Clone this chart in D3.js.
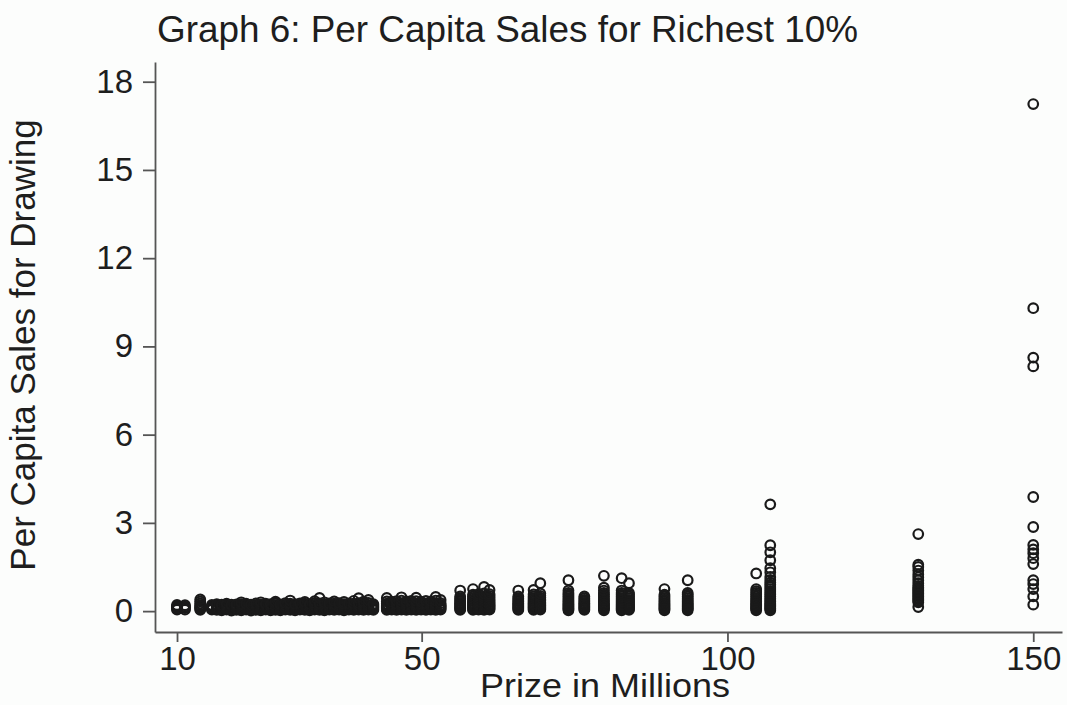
<!DOCTYPE html>
<html lang="en">
    <head>
        <meta charset="utf-8">
        <title>Graph 6</title>
        <script src="https://d3js.org/d3.v7.min.js"></script>
        <style type="text/css">
            body { margin: 0; background: #fcfdfc; }
            text { font-family: "Liberation Sans", Arial, sans-serif; fill: #1e1e1e; }
        </style>
    </head>
    <body>
        <script>
        const width = 1067;
        const height = 705;

        // prize (millions) for each drawing column
        const prizes = [
            10, 11.3, 13.8,
            15.7, 16.5, 17.3, 18.1, 18.9, 19.7, 20.5, 21.3, 22.1, 22.9, 23.7, 24.5, 25.3, 26.1, 26.9,
            27.7, 28.5, 29.3, 30.1, 30.9, 31.7, 32.5, 33.3, 34.1, 34.9, 35.7, 36.5, 37.3, 38.1, 38.9,
            39.7, 40.5, 41.3, 42.1,
            44.3, 45.1, 45.9, 46.7, 47.5, 48.3, 49.1, 49.9, 50.7, 51.5, 52.3, 53.1,
            56.3, 58.4, 59.3, 60.2, 61.1, 65.8, 68.3, 69.4,
            74, 76.6, 79.8, 82.7, 83.9, 89.7, 93.5, 104.7, 107, 131.2, 150
        ];

        // per capita sales of the observations in each column (same order as prizes)
        const sales = [
            [0.05, 0.09, 0.13, 0.17, 0.21], [0.05, 0.1, 0.15, 0.2], [0.04, 0.08, 0.12, 0.16, 0.2, 0.26, 0.33, 0.4],
            [0.05, 0.09, 0.13, 0.17, 0.21], [0.04, 0.08, 0.12, 0.16, 0.2, 0.24], [0.03, 0.07, 0.11, 0.15, 0.19, 0.22],
            [0.05, 0.09, 0.13, 0.17, 0.21, 0.25], [0.02, 0.06, 0.1, 0.14, 0.18, 0.22], [0.04, 0.08, 0.12, 0.16, 0.2, 0.23],
            [0.03, 0.07, 0.11, 0.15, 0.19, 0.24, 0.3], [0.05, 0.09, 0.13, 0.17, 0.21, 0.25], [0.02, 0.06, 0.1, 0.14, 0.18, 0.22],
            [0.04, 0.08, 0.12, 0.16, 0.2, 0.26], [0.03, 0.07, 0.11, 0.15, 0.19, 0.23, 0.3], [0.05, 0.09, 0.13, 0.17, 0.21, 0.25],
            [0.03, 0.07, 0.11, 0.15, 0.19, 0.24], [0.04, 0.08, 0.12, 0.16, 0.2, 0.26, 0.32], [0.03, 0.07, 0.11, 0.15, 0.19, 0.23],
            [0.05, 0.09, 0.13, 0.17, 0.21, 0.27], [0.04, 0.08, 0.12, 0.16, 0.2, 0.25, 0.36], [0.03, 0.07, 0.11, 0.15, 0.19, 0.24],
            [0.05, 0.09, 0.13, 0.17, 0.21, 0.26], [0.04, 0.08, 0.12, 0.16, 0.2, 0.25, 0.31], [0.03, 0.07, 0.11, 0.15, 0.19, 0.24],
            [0.05, 0.09, 0.13, 0.17, 0.21, 0.27, 0.34], [0.04, 0.08, 0.12, 0.16, 0.2, 0.26, 0.45], [0.03, 0.07, 0.11, 0.15, 0.19, 0.24, 0.3],
            [0.05, 0.09, 0.13, 0.17, 0.21, 0.26], [0.04, 0.08, 0.12, 0.16, 0.2, 0.25, 0.33], [0.05, 0.09, 0.13, 0.17, 0.21, 0.27],
            [0.03, 0.07, 0.11, 0.15, 0.19, 0.24, 0.31], [0.05, 0.09, 0.13, 0.17, 0.21, 0.26], [0.04, 0.08, 0.12, 0.16, 0.2, 0.25, 0.35],
            [0.05, 0.09, 0.13, 0.17, 0.21, 0.27, 0.44], [0.04, 0.08, 0.12, 0.16, 0.2, 0.26, 0.32], [0.05, 0.09, 0.13, 0.17, 0.21, 0.28, 0.38],
            [0.04, 0.08, 0.12, 0.16, 0.2, 0.24],
            [0.04, 0.08, 0.12, 0.16, 0.2, 0.25, 0.33, 0.45], [0.05, 0.09, 0.13, 0.17, 0.21, 0.26, 0.32], [0.04, 0.08, 0.12, 0.16, 0.2, 0.25, 0.34],
            [0.05, 0.09, 0.13, 0.17, 0.21, 0.27, 0.36, 0.47], [0.04, 0.08, 0.12, 0.16, 0.2, 0.26, 0.33], [0.05, 0.09, 0.13, 0.17, 0.21, 0.27, 0.35],
            [0.04, 0.08, 0.12, 0.16, 0.2, 0.25, 0.34, 0.46], [0.05, 0.09, 0.13, 0.17, 0.21, 0.26, 0.32], [0.04, 0.08, 0.12, 0.16, 0.2, 0.26, 0.35],
            [0.05, 0.09, 0.13, 0.17, 0.21, 0.27, 0.33], [0.04, 0.08, 0.12, 0.16, 0.2, 0.26, 0.36, 0.48], [0.05, 0.09, 0.13, 0.17, 0.21, 0.27, 0.38],
            [0.04, 0.08, 0.12, 0.16, 0.2, 0.24, 0.28, 0.33, 0.38, 0.44, 0.5, 0.7],
            [0.04, 0.08, 0.12, 0.16, 0.2, 0.24, 0.28, 0.33, 0.38, 0.44, 0.5, 0.56, 0.75],
            [0.05, 0.09, 0.13, 0.17, 0.21, 0.25, 0.3, 0.35, 0.4, 0.46, 0.52, 0.58],
            [0.04, 0.08, 0.12, 0.16, 0.2, 0.24, 0.28, 0.33, 0.38, 0.44, 0.5, 0.6, 0.82],
            [0.05, 0.09, 0.13, 0.17, 0.21, 0.25, 0.3, 0.35, 0.4, 0.46, 0.52, 0.58, 0.72],
            [0.04, 0.08, 0.12, 0.16, 0.2, 0.24, 0.28, 0.33, 0.38, 0.44, 0.5, 0.7],
            [0.04, 0.08, 0.12, 0.16, 0.2, 0.24, 0.28, 0.33, 0.38, 0.44, 0.5, 0.57, 0.72],
            [0.05, 0.09, 0.13, 0.17, 0.21, 0.25, 0.3, 0.35, 0.4, 0.46, 0.52, 0.6, 0.95],
            [0.03, 0.07, 0.11, 0.15, 0.19, 0.23, 0.28, 0.33, 0.38, 0.44, 0.5, 0.56, 0.62, 0.7, 1.05],
            [0.04, 0.08, 0.12, 0.16, 0.2, 0.24, 0.28, 0.33, 0.38, 0.44, 0.5],
            [0.03, 0.07, 0.11, 0.15, 0.19, 0.23, 0.28, 0.33, 0.38, 0.44, 0.5, 0.56, 0.62, 0.7, 0.8, 1.2],
            [0.03, 0.07, 0.11, 0.15, 0.19, 0.23, 0.28, 0.33, 0.38, 0.44, 0.5, 0.56, 0.62, 0.7, 1.12],
            [0.04, 0.08, 0.12, 0.16, 0.2, 0.24, 0.28, 0.33, 0.38, 0.44, 0.5, 0.56, 0.62, 0.95],
            [0.03, 0.07, 0.11, 0.15, 0.19, 0.23, 0.28, 0.33, 0.38, 0.44, 0.5, 0.56, 0.75],
            [0.03, 0.07, 0.11, 0.15, 0.19, 0.23, 0.28, 0.33, 0.38, 0.44, 0.5, 0.56, 0.62, 1.05],
            [0.03, 0.07, 0.11, 0.15, 0.19, 0.23, 0.28, 0.33, 0.38, 0.44, 0.5, 0.56, 0.62, 0.68, 0.75, 1.28],
            [0.03, 0.07, 0.11, 0.15, 0.19, 0.23, 0.28, 0.33, 0.38, 0.44, 0.5, 0.56, 0.62, 0.68, 0.75, 0.82, 0.9, 0.97, 1.06, 1.16, 1.32, 1.46, 1.73, 2.0, 2.24, 3.63],
            [0.14, 0.3, 0.35, 0.4, 0.45, 0.5, 0.55, 0.6, 0.65, 0.7, 0.75, 0.8, 0.86, 0.95, 1.05, 1.15, 1.25, 1.38, 1.5, 1.58, 2.62],
            [0.22, 0.5, 0.75, 0.92, 1.05, 1.6, 1.8, 1.97, 2.1, 2.25, 2.86, 3.88, 8.32, 8.62, 10.3, 17.24]
        ];

        const xTicks = [10, 50, 100, 150];
        const yTicks = [0, 3, 6, 9, 12, 15, 18];

        // flatten into points
        const dataset = [];
        prizes.forEach((p, i) => {
            sales[i].forEach(s => dataset.push({prize: p, sales: s}));
        });

        const xScale = d3.scaleLinear()
                        .domain([6.4, 154.7])
                        .range([155, 1062]);

        const yScale = d3.scaleLinear()
                        .domain([-0.71, 18.67])
                        .range([632, 62]);

        const svg = d3.select("body")
                    .append("svg")
                    .attr("width", width)
                    .attr("height", height);

        svg.append("rect")
            .attr("width", width)
            .attr("height", height)
            .attr("fill", "#fcfdfc");

        // points
        svg.append("g")
            .selectAll("circle")
            .data(dataset)
            .enter()
            .append("circle")
            .attr("cx", d => xScale(d.prize))
            .attr("cy", d => yScale(d.sales))
            .attr("r", 4.8)
            .attr("fill", "none")
            .attr("stroke", "#1a1a1a")
            .attr("stroke-width", 2.2);

        const bottomAxis = d3.axisBottom(xScale)
                            .tickValues(xTicks)
                            .tickSize(10)
                            .tickSizeOuter(0)
                            .tickPadding(5);
        const leftAxis = d3.axisLeft(yScale)
                            .tickValues(yTicks)
                            .tickSize(12)
                            .tickSizeOuter(0)
                            .tickPadding(10);

        const gx = svg.append("g")
            .attr("transform", "translate(0,632)")
            .call(bottomAxis);

        const gy = svg.append("g")
            .attr("transform", "translate(155,0)")
            .call(leftAxis);

        [gx, gy].forEach(g => {
            g.select(".domain").attr("stroke", "#555").attr("stroke-width", 1.8);
            g.selectAll(".tick line").attr("stroke", "#555").attr("stroke-width", 1.8);
            g.selectAll(".tick text")
                .attr("font-size", 33)
                .attr("font-family", "Liberation Sans, Arial, sans-serif")
                .attr("fill", "#1e1e1e");
        });

        // title
        svg.append("text")
            .attr("x", 157)
            .attr("y", 42)
            .attr("font-size", 36)
            .attr("textLength", 701)
            .attr("lengthAdjust", "spacingAndGlyphs")
            .text("Graph 6: Per Capita Sales for Richest 10%");

        // axis titles
        svg.append("text")
            .attr("x", 605)
            .attr("y", 697)
            .attr("text-anchor", "middle")
            .attr("font-size", 33)
            .attr("textLength", 250)
            .attr("lengthAdjust", "spacingAndGlyphs")
            .text("Prize in Millions");

        svg.append("text")
            .attr("transform", "translate(35,345) rotate(-90)")
            .attr("text-anchor", "middle")
            .attr("font-size", 35)
            .text("Per Capita Sales for Drawing");
        </script>
    </body>
</html>
